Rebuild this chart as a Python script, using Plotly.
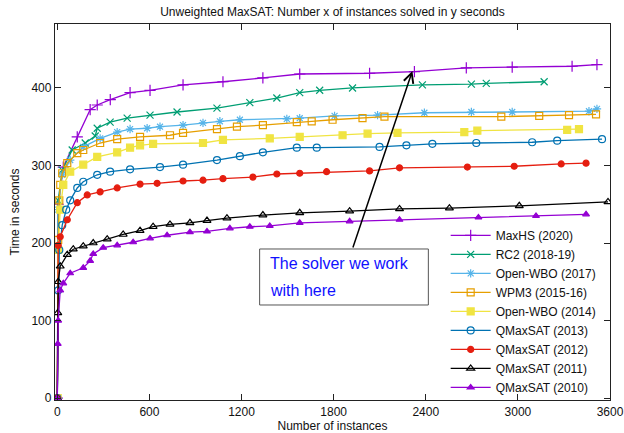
import plotly.graph_objects as go

# ---- data ----
names = ["MaxHS (2020)", "RC2 (2018-19)", "Open-WBO (2017)", "WPM3 (2015-16)",
         "Open-WBO (2014)", "QMaxSAT (2013)", "QMaxSAT (2012)", "QMaxSAT (2011)",
         "QMaxSAT (2010)"]

maxhs_x = [0, 6, 39, 130, 214, 260, 345, 474, 604, 819, 1079, 1339, 1579, 2034, 2326, 2664, 2963, 3353, 3515]
maxhs_y = [0, 250, 298, 337, 372, 378, 385, 394, 397, 404, 408, 413, 418, 419, 421, 426, 427, 428, 430]

rc2_x = [0, 6, 32, 97, 182, 247, 260, 344, 455, 604, 780, 1040, 1254, 1430, 1579, 1709, 1923, 2378, 2697, 2794, 3171]
rc2_y = [0, 255, 294, 320, 329, 338, 348, 356, 361, 365, 369, 374, 381, 387, 394, 397, 400, 404, 405, 406, 408]

owbo17_x = [0, 6, 32, 84, 169, 279, 390, 474, 585, 669, 819, 949, 1059, 1189, 1495, 1579, 1806, 2086, 2391, 2697, 2963, 3463, 3515]
owbo17_y = [0, 243, 288, 307, 324, 335, 343, 347, 348, 350, 352, 355, 357, 359, 360, 361, 364, 365, 368, 369, 369, 370, 373]

wpm3_x = [0, 6, 13, 19, 32, 65, 130, 169, 279, 390, 539, 734, 819, 1040, 1170, 1339, 1560, 1657, 1793, 1988, 2131, 2892, 3139, 3333, 3509]
wpm3_y = [0, 204, 255, 275, 290, 303, 316, 320, 329, 334, 337, 339, 342, 347, 350, 352, 356, 357, 359, 361, 363, 363, 364, 365, 366]

owbo14_x = [0, 6, 19, 39, 84, 169, 260, 390, 474, 539, 624, 949, 1079, 1384, 1579, 1858, 2021, 2216, 2651, 2736, 3321, 3398]
owbo14_y = [0, 191, 243, 275, 292, 301, 311, 317, 323, 326, 328, 329, 333, 335, 337, 339, 341, 342, 343, 345, 346, 347]

qm13_x = [0, 6, 13, 32, 58, 84, 130, 169, 260, 344, 474, 669, 819, 1040, 1189, 1339, 1560, 1690, 2099, 2274, 2443, 2729, 3093, 3256, 3548]
qm13_y = [0, 139, 191, 223, 243, 255, 271, 279, 288, 292, 295, 298, 301, 307, 312, 317, 323, 323, 324, 326, 328, 329, 330, 332, 334]

qm12_x = [0, 6, 19, 65, 130, 195, 279, 390, 539, 650, 819, 949, 1079, 1274, 1430, 1579, 1754, 2034, 2229, 2671, 2976, 3282, 3444]
qm12_y = [0, 197, 208, 230, 252, 262, 266, 271, 276, 277, 280, 281, 283, 285, 289, 290, 292, 293, 297, 298, 299, 302, 303]

qm11_x = [0, 3, 6, 19, 65, 104, 169, 234, 325, 429, 539, 624, 734, 864, 975, 1105, 1339, 1579, 1904, 2229, 2554, 3009, 3587]
qm11_y = [0, 110, 150, 170, 185, 192, 196, 200, 205, 211, 216, 221, 224, 226, 229, 232, 236, 239, 241, 244, 245, 248, 253]

qm10_x = [0, 3, 6, 19, 39, 84, 169, 214, 234, 299, 390, 494, 604, 715, 864, 975, 1124, 1254, 1384, 1579, 1904, 2229, 2743, 3118, 3444]
qm10_y = [0, 70, 100, 139, 148, 161, 168, 177, 186, 194, 197, 201, 206, 210, 214, 215, 219, 221, 222, 226, 228, 230, 233, 235, 237]

series_x = [maxhs_x, rc2_x, owbo17_x, wpm3_x, owbo14_x, qm13_x, qm12_x, qm11_x, qm10_x]
series_y = [maxhs_y, rc2_y, owbo17_y, wpm3_y, owbo14_y, qm13_y, qm12_y, qm11_y, qm10_y]

x_ticks = [0, 600, 1200, 1800, 2400, 3000, 3600]
y_ticks = [0, 100, 200, 300, 400]

# ---- styles ----
colors = ["#9400d3", "#009e73", "#56b4e9", "#e69f00", "#f0e442",
          "#0072b2", "#e51e10", "#000000", "#9400d3"]
symbols = ["cross-thin", "x-thin", "asterisk-open", "square-open", "square",
           "circle-open", "circle", "triangle-up-open", "triangle-up"]
sizes = [8, 7, 7, 7, 7, 7, 6, 7, 6]

FONT = "Liberation Sans, Arial, sans-serif"

fig = go.Figure()
for nm, xs, ys, c, s, sz in zip(names, series_x, series_y, colors, symbols, sizes):
    fig.add_trace(go.Scatter(
        x=xs, y=ys, name=nm, mode="lines+markers",
        line=dict(color=c, width=1.3),
        marker=dict(symbol=s, size=sz, color=c, line=dict(color=c, width=1.2)),
    ))

axis_common = dict(
    showline=True, linecolor="#222", linewidth=1.3, mirror="allticks",
    ticks="inside", ticklen=6, tickwidth=1, tickcolor="#222",
    showgrid=False, zeroline=False, automargin=False,
    tickfont=dict(family=FONT, size=12, color="#111"),
)

fig.update_layout(
    width=624, height=433,
    margin=dict(l=55, r=14, t=24, b=33),
    paper_bgcolor="white", plot_bgcolor="white",
    font=dict(family=FONT, size=12, color="#111"),
    title=dict(text="Unweighted MaxSAT: Number x of instances solved in y seconds",
               x=0.5, xanchor="center", xref="paper", y=0.972, yanchor="middle",
               font=dict(family=FONT, size=12, color="#111")),
    xaxis=dict(range=[-15, 3600], tickvals=x_ticks,
               title=dict(text="Number of instances", standoff=3,
                          font=dict(family=FONT, size=12)),
               **axis_common),
    yaxis=dict(range=[-2.5, 482.5], tickvals=y_ticks,
               title=dict(text="Time in seconds", standoff=9,
                          font=dict(family=FONT, size=12)),
               **axis_common),
    showlegend=True,
    legend=dict(x=0.985, xanchor="right", y=-0.005, yanchor="bottom",
                bgcolor="rgba(0,0,0,0)", borderwidth=0,
                font=dict(family=FONT, size=12, color="#111"),
                traceorder="normal", itemwidth=40, tracegroupgap=0),
)

# annotation box, text and arrow
fig.add_shape(type="rect", xref="paper", yref="paper",
              x0=0.3687, x1=0.6727, y0=0.2527, y1=0.4016,
              line=dict(color="#555", width=1), fillcolor="white", layer="above")
fig.add_annotation(xref="paper", yref="paper", x=0.383, y=0.364,
                   xanchor="left", yanchor="middle", showarrow=False,
                   text="The solver we work",
                   font=dict(family=FONT, size=16, color="#1010ff"))
fig.add_annotation(xref="paper", yref="paper", x=0.383, y=0.290,
                   xanchor="left", yanchor="middle", showarrow=False,
                   text="with here",
                   font=dict(family=FONT, size=16, color="#1010ff"))
fig.add_annotation(x=2313, y=422, xref="x", yref="y", text="",
                   showarrow=True, ax=-60, ay=178, axref="pixel", ayref="pixel",
                   arrowhead=5, arrowsize=1.3, arrowwidth=1.5, arrowcolor="#000",
                   standoff=0)

fig.write_html("out.html")
